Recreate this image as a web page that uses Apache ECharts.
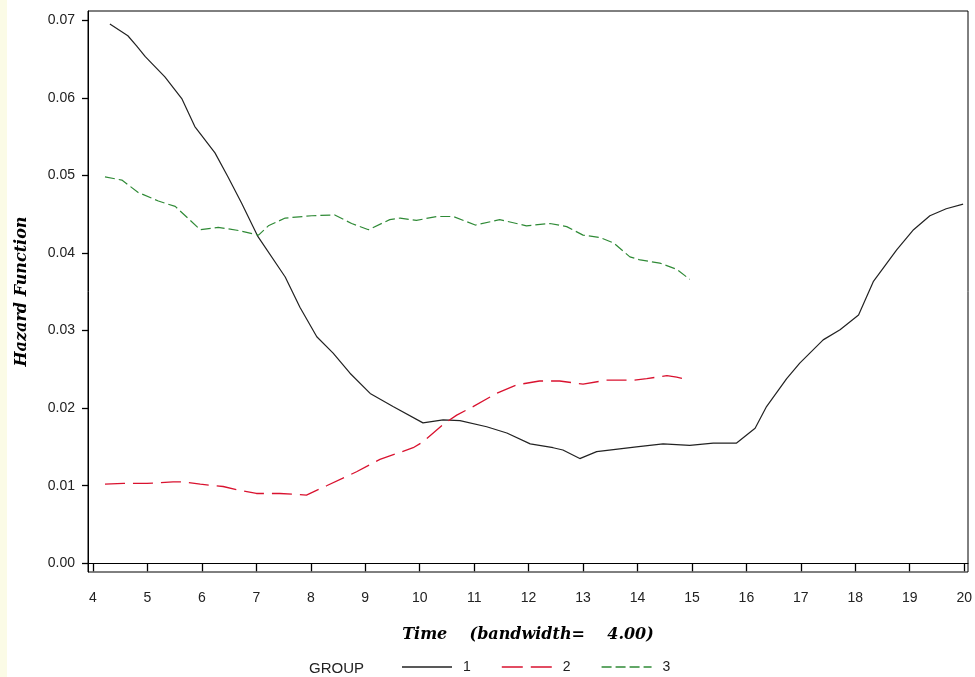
<!DOCTYPE html>
<html>
<head>
<meta charset="utf-8">
<script src="https://cdn.jsdelivr.net/npm/echarts@6/dist/echarts.min.js"></script>
<style>
  html, body { margin: 0; padding: 0; background: #fff; }
  #chart { width: 975px; height: 677px; }
</style>
</head>
<body>
<div id="chart"></div>
<script>
// tick values
const xTicks = [4, 5, 6, 7, 8, 9, 10, 11, 12, 13, 14, 15, 16, 17, 18, 19, 20];
const yTicks = [0, 0.01, 0.02, 0.03, 0.04, 0.05, 0.06, 0.07];

// group 1 (solid black)
const group1Time = [4.31, 4.64, 4.80, 4.96, 5.32, 5.63, 5.87, 6.24, 6.48, 6.73, 7.03, 7.53, 7.80, 8.11, 8.41, 8.72, 9.09, 9.51, 10.06, 10.43, 10.74, 11.23, 11.60, 12.03, 12.45, 12.63, 12.94, 13.25, 13.98, 14.47, 14.96, 15.39, 15.82, 16.16, 16.37, 16.74, 16.98, 17.41, 17.72, 18.06, 18.33, 18.76, 19.07, 19.37, 19.67, 19.98];
const group1Hazard = [0.0695, 0.0680, 0.0667, 0.0653, 0.0627, 0.0599, 0.0563, 0.0529, 0.0498, 0.0464, 0.0421, 0.0369, 0.0330, 0.0292, 0.0271, 0.0245, 0.0219, 0.0202, 0.0181, 0.0185, 0.0184, 0.0176, 0.0168, 0.0154, 0.0149, 0.0146, 0.0135, 0.0144, 0.0150, 0.0154, 0.0152, 0.0155, 0.0155, 0.0174, 0.0202, 0.0238, 0.0258, 0.0288, 0.0301, 0.0320, 0.0363, 0.0404, 0.0430, 0.0448, 0.0457, 0.0463];

// group 2 (red long dash)
const group2Time = [4.22, 4.56, 4.99, 5.47, 5.66, 5.97, 6.39, 6.70, 7.00, 7.43, 7.92, 8.29, 8.84, 9.27, 9.88, 10.07, 10.43, 10.68, 10.98, 11.41, 11.78, 12.20, 12.57, 13.00, 13.43, 13.92, 14.17, 14.54, 14.72, 14.96];
const group2Hazard = [0.0102, 0.0103, 0.0103, 0.0105, 0.0105, 0.0102, 0.0099, 0.0094, 0.0090, 0.0090, 0.0088, 0.0100, 0.0118, 0.0134, 0.0149, 0.0157, 0.0179, 0.0191, 0.0202, 0.0219, 0.0230, 0.0235, 0.0235, 0.0231, 0.0236, 0.0236, 0.0238, 0.0242, 0.0240, 0.0236];

// group 3 (green short dash)
const group3Time = [4.22, 4.53, 4.83, 5.20, 5.51, 5.97, 6.30, 6.67, 7.04, 7.22, 7.53, 8.02, 8.44, 8.75, 9.06, 9.45, 9.64, 9.94, 10.31, 10.62, 11.02, 11.47, 11.96, 12.39, 12.70, 13.00, 13.31, 13.56, 13.86, 14.05, 14.41, 14.72, 14.96];
const group3Hazard = [0.0498, 0.0494, 0.0478, 0.0467, 0.0460, 0.0430, 0.0433, 0.0429, 0.0423, 0.0435, 0.0445, 0.0448, 0.0449, 0.0438, 0.0430, 0.0443, 0.0445, 0.0442, 0.0447, 0.0447, 0.0436, 0.0443, 0.0435, 0.0438, 0.0434, 0.0423, 0.0420, 0.0413, 0.0395, 0.0391, 0.0387, 0.0379, 0.0366];

const zip = (xs, ys) => xs.map((x, i) => [x, ys[i]]);

const labelFont = { color: "#222", fontSize: 14, fontFamily: "Liberation Sans, Arial" };
const titleFont = { color: "#000", fontSize: 16, fontWeight: "bold", fontStyle: "italic", fontFamily: "DejaVu Serif" };

// legend samples: line with the dash pattern of each group (line series legend always adds a symbol)
const legendIcons = {
  1: "path://M0,0H50V1.6H0Z",
  2: "path://M0,0H21V1.6H0Z M29,0H50V1.6H29Z",
  3: "path://M0,0H10V1.6H0Z M14,0H24V1.6H14Z M28,0H38V1.6H28Z M42,0H50V1.6H42Z",
};

const chart = echarts.init(document.getElementById("chart"));
const option = {
  backgroundColor: "#fff",
  animation: false,
  grid: {
    left: 88,
    top: 11,
    right: 7,
    bottom: 105,
    show: true,
    borderColor: "#000",
    borderWidth: 1,
  },
  graphic: [
    // cream strip on the left edge
    { type: "rect", left: 0, top: 0, shape: { width: 7, height: 677 }, style: { fill: "#fbfbe6" }, z: -1 },
    { type: "text", left: 309, top: 661, style: { text: "GROUP", fontSize: 15, fontFamily: "Liberation Sans, Arial", fill: "#222" } },
  ],
  xAxis: {
    type: "value",
    min: 3.908,
    max: 20.07,
    name: "Time    (bandwidth=    4.00)",
    nameLocation: "middle",
    nameGap: 55,
    nameTextStyle: titleFont,
    axisLine: { show: true, lineStyle: { color: "#000", width: 1 } },
    axisTick: { show: true, length: 8, customValues: xTicks, lineStyle: { color: "#000", width: 1.3 } },
    axisLabel: { customValues: xTicks, margin: 19, ...labelFont },
    splitLine: { show: false },
  },
  yAxis: {
    type: "value",
    min: -0.00112,
    max: 0.07119,
    name: "Hazard Function",
    nameLocation: "middle",
    nameGap: 58,
    nameTextStyle: titleFont,
    axisLine: { show: true, lineStyle: { color: "#000", width: 1 } },
    axisTick: { show: true, length: 6, customValues: yTicks, lineStyle: { color: "#000", width: 1.3 } },
    axisLabel: { customValues: yTicks, margin: 13, formatter: (v) => v.toFixed(2), ...labelFont },
    splitLine: { show: false },
  },
  legend: {
    left: 402,
    top: 660,
    padding: 0,
    itemWidth: 50,
    itemHeight: 16,
    itemGap: 31,
    textStyle: { fontSize: 14, fontFamily: "Liberation Sans, Arial", color: "#222", padding: [0, 0, 0, 6] },
    data: [
      { name: "1", icon: legendIcons[1], itemStyle: { color: "#222" } },
      { name: "2", icon: legendIcons[2], itemStyle: { color: "#d9122f" } },
      { name: "3", icon: legendIcons[3], itemStyle: { color: "#2f8a36" } },
    ],
  },
  series: [
    {
      name: "1",
      type: "line",
      data: zip(group1Time, group1Hazard),
      showSymbol: false,
      symbol: "none",
      lineStyle: { color: "#222", width: 1.2, type: "solid" },
      itemStyle: { color: "#222" },
    },
    {
      name: "2",
      type: "line",
      data: zip(group2Time, group2Hazard),
      showSymbol: false,
      symbol: "none",
      lineStyle: { color: "#d9122f", width: 1.3, type: [20, 8] },
      itemStyle: { color: "#d9122f" },
    },
    {
      name: "3",
      type: "line",
      data: zip(group3Time, group3Hazard),
      showSymbol: false,
      symbol: "none",
      lineStyle: { color: "#2f8a36", width: 1.2, type: [10, 4] },
      itemStyle: { color: "#2f8a36" },
    },
  ],
};
chart.setOption(option);
</script>
</body>
</html>
